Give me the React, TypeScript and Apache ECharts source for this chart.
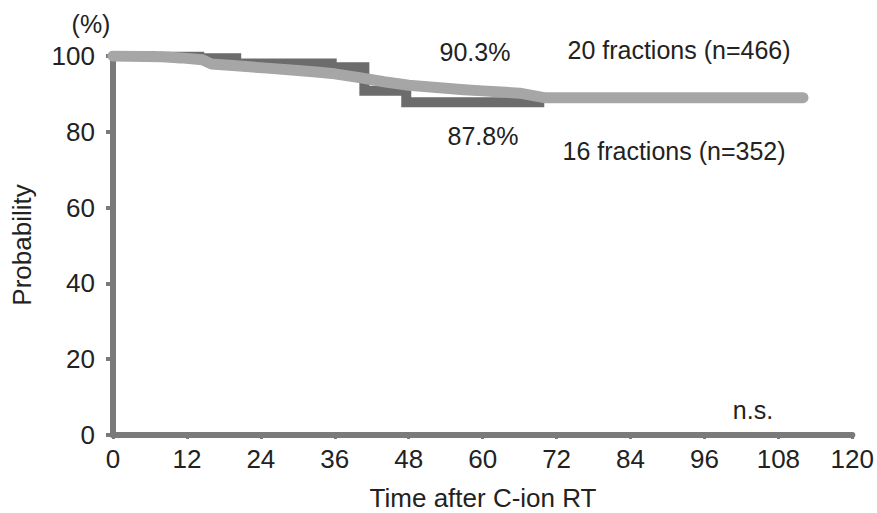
import React, { useEffect, useRef } from "react";
import * as echarts from "echarts";

const xTicks = [0, 12, 24, 36, 48, 60, 72, 84, 96, 108, 120];
const yTicks = [0, 20, 40, 60, 80, 100];

// 16 fractions (n=352)
const months16 = [0, 6, 14, 20, 35.5, 40.8, 47.6, 70];
const surv16 = [100, 99.8, 99.4, 98.0, 97.0, 90.8, 87.8, 87.8];

// 20 fractions (n=466)
const months20 = [0, 8, 11, 14.5, 16, 20, 25, 30, 33, 36, 40, 44, 48, 51, 54, 57, 60, 63, 66, 70, 112];
const surv20 = [100, 99.8, 99.5, 99, 97.9, 97.4, 96.8, 96.2, 95.8, 95.3, 94.3, 93.2, 92.3, 91.9, 91.5, 91.1, 90.8, 90.5, 90.2, 89, 89];

const labels = {
  yName: "Probability",
  xName: "Time after C-ion RT",
  unit: "(%)",
  p20: "90.3%",
  g20: "20 fractions (n=466)",
  p16: "87.8%",
  g16: "16 fractions (n=352)",
  ns: "n.s.",
};

const FONT = "Liberation Sans, Arial, Helvetica, sans-serif";
const TXT = "#222222";

export default function App() {
  const ref = useRef<HTMLDivElement>(null);
  useEffect(() => {
    if (!ref.current) return;
    const chart = echarts.init(ref.current, null, { renderer: "svg" });
    const txt = (text: string, x: number, y: number, extra: any = {}) => ({
      type: "text",
      x,
      y,
      style: {
        text,
        fill: TXT,
        font: `${extra.size || 25}px ${FONT}`,
        align: "center",
        verticalAlign: "middle",
      },
      ...(extra.rotation !== undefined ? { rotation: extra.rotation } : {}),
    });
    chart.setOption({
      animation: false,
      backgroundColor: "#ffffff",
      grid: { left: 113, right: 22, top: 56, bottom: 78, containLabel: false },
      xAxis: {
        type: "value",
        min: 0,
        max: 120,
        interval: 12,
        axisLine: { show: true, lineStyle: { color: "#7a7a7a", width: 6 } },
        axisTick: { show: true, length: 4, lineStyle: { color: "#7a7a7a", width: 3 } },
        axisLabel: {
          margin: 11,
          fontSize: 26,
          fontFamily: FONT,
          color: TXT,
          formatter: (v: number) => (xTicks.includes(v) ? String(v) : ""),
        },
        splitLine: { show: false },
      },
      yAxis: {
        type: "value",
        min: 0,
        max: 100,
        interval: 20,
        axisLine: { show: true, lineStyle: { color: "#7a7a7a", width: 6 } },
        axisTick: { show: true, length: 7, lineStyle: { color: "#7a7a7a", width: 4 } },
        axisLabel: {
          margin: 18,
          fontSize: 26,
          fontFamily: FONT,
          color: TXT,
          padding: [6, 0, 0, 0],
          formatter: (v: number) => (yTicks.includes(v) ? String(v) : ""),
        },
        splitLine: { show: false },
      },
      series: [
        {
          name: labels.g16,
          type: "line",
          step: "end",
          data: months16.map((m, i) => [m, surv16[i]]),
          showSymbol: false,
          symbol: "none",
          lineStyle: { color: "#6c6c6c", width: 10, cap: "butt", join: "miter" },
          z: 2,
        },
        {
          name: labels.g20,
          type: "line",
          data: months20.map((m, i) => [m, surv20[i]]),
          showSymbol: false,
          symbol: "none",
          lineStyle: { color: "#a6a6a6", width: 11, cap: "round", join: "round" },
          z: 3,
        },
      ],
      graphic: [
        txt(labels.unit, 91, 24),
        txt(labels.yName, 22, 245, { rotation: Math.PI / 2, size: 26 }),
        txt(labels.xName, 483, 498, { size: 26 }),
        txt(labels.p20, 475, 52),
        txt(labels.g20, 679, 50),
        txt(labels.p16, 483, 136),
        txt(labels.g16, 674, 151),
        txt(labels.ns, 753, 410),
      ],
    });
    return () => chart.dispose();
  }, []);
  return (
    <div
      ref={ref}
      style={{ position: "fixed", left: 0, top: 0, width: 877, height: 513, background: "#fff" }}
    />
  );
}
